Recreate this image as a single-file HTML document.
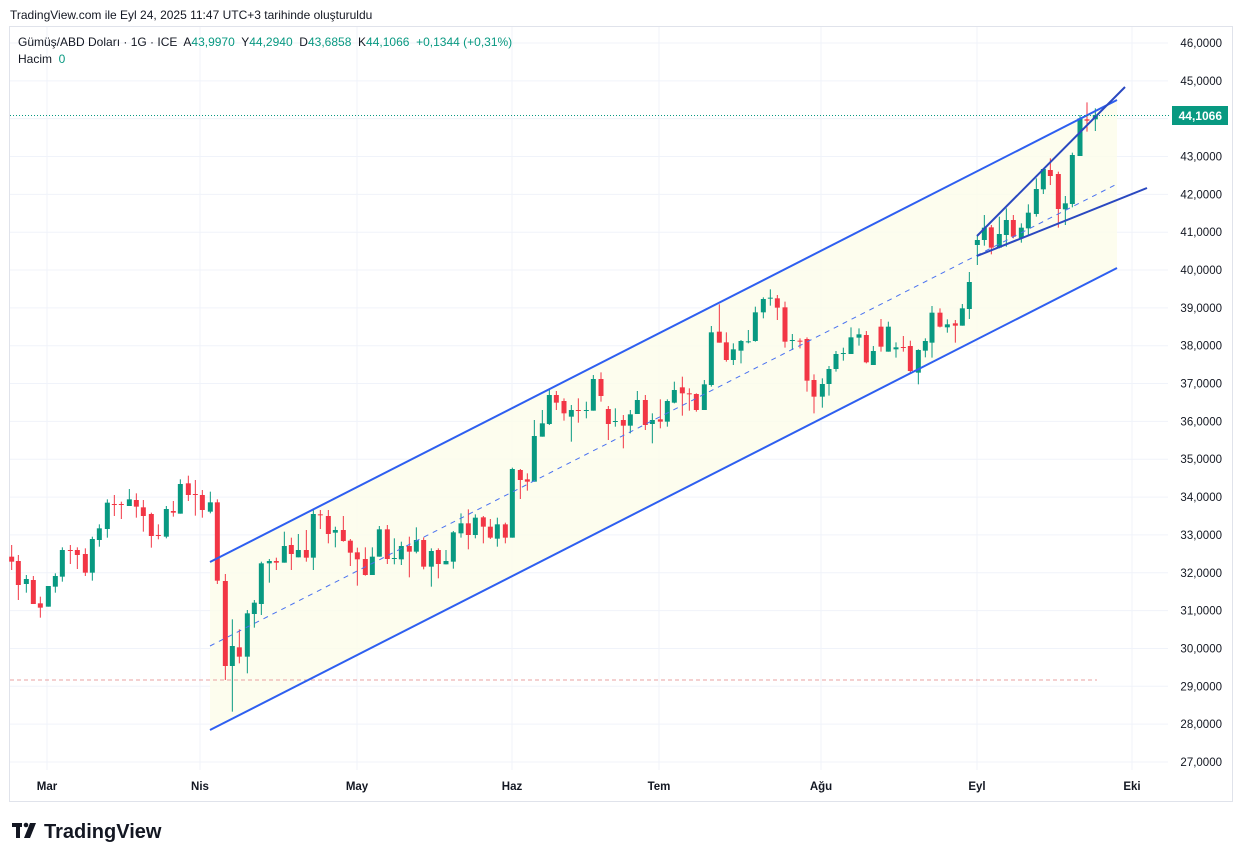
<!DOCTYPE html>
<html><head><meta charset="utf-8"><style>
html,body{margin:0;padding:0;background:#fff;width:1242px;height:861px;overflow:hidden;font-family:"Liberation Sans",sans-serif}
svg{position:absolute;left:0;top:0}
text{white-space:pre}
</style></head><body>
<svg id="s" width="1242" height="861" xmlns="http://www.w3.org/2000/svg">
<rect x="9.5" y="26.5" width="1223" height="775" fill="#fff" stroke="#e0e3eb"/>
<g id="grid" stroke="#f0f3fa" stroke-width="1"></g>
<polygon points="210,562 1117,100 1117,268 210,730" fill="#fdfdea" opacity="0.8"/>
<line x1="10" y1="680" x2="1097" y2="680" stroke="#e9a0a0" stroke-width="1" stroke-dasharray="4,3"/>
<g id="c"></g>
<line x1="210" y1="562" x2="1117" y2="100" stroke="#2e5ff0" stroke-width="2"/>
<line x1="210" y1="730" x2="1117" y2="268" stroke="#2e5ff0" stroke-width="2"/>
<line x1="210" y1="646" x2="1117" y2="184" stroke="#4a72f0" stroke-width="1" stroke-dasharray="5,5"/>
<line x1="977" y1="236" x2="1125" y2="87" stroke="#2a48c0" stroke-width="2"/>
<line x1="977" y1="256" x2="1147" y2="188" stroke="#2a48c0" stroke-width="2"/>
<line x1="10" y1="115.5" x2="1170" y2="115.5" stroke="#089981" stroke-width="1" stroke-dasharray="1,2"/>
<g id="yl" font-size="11.5" fill="#131722" text-anchor="end"></g>
<rect x="1172" y="106" width="56" height="19" fill="#089981"/>
<text x="1222" y="120" font-size="12" font-weight="bold" fill="#fff" text-anchor="end">44,1066</text>
<g font-size="11.5" font-weight="bold" fill="#131722" text-anchor="middle">
<text x="47" y="790">Mar</text><text x="200" y="790">Nis</text><text x="357" y="790">May</text><text x="512" y="790">Haz</text><text x="659" y="790">Tem</text><text x="821" y="790">Ağu</text><text x="977" y="790">Eyl</text><text x="1132" y="790">Eki</text>
</g>
<text x="10" y="19" font-size="12" fill="#131722">TradingView.com ile Eyl 24, 2025 11:47 UTC+3 tarihinde oluşturuldu</text>
<text x="18" y="46" font-size="12" fill="#131722" xml:space="preserve">Gümüş/ABD Doları · 1G · ICE  A<tspan fill="#089981">43,9970</tspan>  Y<tspan fill="#089981">44,2940</tspan>  D<tspan fill="#089981">43,6858</tspan>  K<tspan fill="#089981">44,1066</tspan>  <tspan fill="#089981">+0,1344 (+0,31%)</tspan></text>
<text x="18" y="63" font-size="12" fill="#131722" xml:space="preserve">Hacim  <tspan fill="#089981">0</tspan></text>
<g fill="#131722"><rect x="12" y="823" width="10" height="4"/><rect x="16" y="823" width="4" height="15"/><circle cx="26" cy="825" r="2.3"/><polygon points="30,823 36,823 30,838 24,838"/></g>
<text x="44" y="838" font-size="20" font-weight="bold" fill="#131722">TradingView</text>
</svg>
<script>
var ns="http://www.w3.org/2000/svg";
function el(p,t,a){var e=document.createElementNS(ns,t);for(var k in a)e.setAttribute(k,a[k]);p.appendChild(e);return e;}
var g=document.getElementById('grid'),yl=document.getElementById('yl');
for(var i=0;i<=19;i++){var y=43+i*37.84;el(g,'line',{x1:10,x2:1168,y1:y,y2:y});if(i!=2){var t=el(yl,'text',{x:1222,y:y+4});t.textContent=(46-i)+',0000';}}
[47,200,357,512,659,821,977,1132].forEach(function(x){el(g,'line',{x1:x,x2:x,y1:27,y2:770});});
var Z=[[0,460,[
[35,290,305,255,330,'r'],[55,303,375,285,420,'r'],[79,357,372,345,398,'g'],[100,360,432,348,432,'r'],[121,430,443,410,473,'r'],[145,378,440,378,440,'g'],[166,348,380,340,398,'g'],[187,270,350,262,365,'g'],[211,270,272,255,312,'r'],[232,270,285,262,327,'r'],[256,282,338,265,348,'r'],[277,237,338,230,362,'g'],[298,205,240,193,260,'g'],[322,128,207,118,233,'g'],[343,132,134,105,168,'r'],[364,132,134,125,177,'r'],[388,118,138,87,138,'g'],[409,120,140,100,173,'r'],[430,142,168,120,215,'r'],[454,162,228,158,263,'r'],[475,225,228,193,238,'r'],[499,147,230,138,235,'g'],[520,153,158,123,170,'r'],[541,72,161,58,161,'g'],[565,70,105,47,123,'r'],[586,102,104,60,167,'r'],[607,105,150,90,173,'r'],[631,127,155,95,160,'g'],[652,127,362,118,372,'r'],[676,363,618,342,660,'r'],[697,558,618,478,755,'g'],[718,562,590,508,610,'r'],[742,460,590,450,640,'g'],[763,428,462,420,503,'g'],[784,310,432,305,465,'g'],[808,303,310,297,368,'g'],[829,303,308,293,330,'r'],[853,258,308,215,308,'g'],[874,255,282,233,330,'r'],[895,270,292,222,292,'g'],[919,270,293,210,305,'r'],[940,162,293,150,330,'g'],[961,163,166,150,207,'r'],[985,168,222,150,250,'r'],[1006,210,218,200,262,'g'],[1030,210,243,168,245,'r'],[1051,242,278,237,318,'r'],[1072,277,298,263,377,'r'],[1096,297,345,262,347,'r'],[1117,290,345,262,345,'g'],[1138,208,290,198,290,'g'],[1162,208,297,195,312,'r'],[1183,294,296,235,313,'g']]],
[380,280,[
[64,798,838,785,855,'g'],[88,798,815,770,892,'r'],[109,780,815,742,820,'g'],[131,780,860,772,868,'r'],[154,813,860,805,920,'g'],[175,810,852,805,895,'r'],[198,843,853,810,853,'g'],[220,757,845,753,866,'g'],[243,730,760,700,773,'g'],[265,730,765,688,808,'r'],[286,713,765,703,775,'g'],[310,712,740,708,790,'r'],[331,740,773,717,777,'r'],[352,733,776,713,800,'g'],[376,733,773,728,790,'r'],[397,567,773,563,773,'g'],[421,570,600,567,657,'r'],[442,598,605,580,632,'r'],[463,468,605,420,605,'g'],[487,430,470,390,470,'g'],[508,345,432,328,435,'g'],[529,345,368,333,390,'r'],[552,363,400,355,422,'r'],[574,390,410,375,485,'g'],[595,390,392,355,428,'r'],[619,390,392,365,415,'g'],[640,297,392,285,392,'g'],[663,297,348,277,365,'r'],[685,387,432,378,480,'r'],[706,423,425,385,440,'g'],[730,420,437,405,505,'r'],[751,403,437,390,460,'g'],[772,360,402,333,402,'g'],[796,360,435,345,450,'r'],[817,420,432,400,490,'g'],[841,418,425,358,445,'r'],[862,363,425,358,440,'g'],[883,330,368,305,370,'g'],[907,322,340,290,407,'r'],[928,340,342,325,392,'r'],[949,342,390,340,395,'r'],[973,313,390,300,390,'g'],[994,157,315,138,320,'g'],[1018,155,188,73,188,'r'],[1039,187,240,157,245,'r'],[1060,208,240,190,255,'g'],[1083,183,212,180,250,'g'],[1105,184,186,150,190,'g'],[1126,97,183,80,185,'g'],[1150,57,97,52,115,'g'],[1171,53,55,28,77,'g'],[1192,55,83,45,120,'r'],[1215,82,185,65,203,'r'],[1237,180,182,162,210,'g']]],
[780,90,[
[60,752,754,745,775,'r'],[81,747,872,742,905,'r'],[102,870,920,853,970,'r'],[127,882,920,865,953,'g'],[147,837,882,828,917,'g'],[168,792,837,783,845,'g'],[190,789,791,773,812,'g'],[213,742,792,712,792,'g'],[237,733,743,715,767,'g'],[259,735,817,723,820,'r'],[280,783,825,768,825,'g'],[303,710,770,687,785,'r'],[325,710,785,695,785,'g'],[348,772,778,757,803,'g'],[370,771,773,738,785,'r'],[391,768,843,752,848,'r'],[415,780,848,778,883,'g'],[436,753,782,745,802,'g'],[456,668,758,648,803,'g'],[480,668,710,655,712,'r'],[502,703,712,688,728,'g'],[526,700,707,690,758,'r'],[547,655,707,642,707,'g'],[568,576,657,546,687,'g'],[592,450,465,437,525,'g'],[613,413,450,375,467,'g'],[634,412,473,405,493,'r'],[658,432,473,380,475,'g'],[679,390,435,355,470,'g'],[700,390,440,375,445,'r'],[724,413,445,400,458,'g'],[745,368,415,343,437,'g'],[769,297,372,265,380,'g'],[790,237,298,235,312,'g'],[811,240,258,205,285,'r'],[835,252,357,245,413,'r'],[856,340,358,318,405,'g'],[877,195,342,188,352,'g'],[900,85,198,75,198,'g'],[921,88,92,37,125,'r'],[946,75,88,55,123,'g']]]];
var c=document.getElementById('c');
Z.forEach(function(z){var ox=z[0],oy=z[1];z[2].forEach(function(d){
var x=ox+d[0]/3,t=oy+d[1]/3,b=oy+d[2]/3,h=oy+d[3]/3,l=oy+d[4]/3,col=d[5]=='g'?'#089981':'#f23645';
el(c,'line',{x1:x,x2:x,y1:h,y2:l,stroke:col,'stroke-width':1});
el(c,'rect',{x:x-2.5,y:t,width:5,height:Math.max(1,b-t),fill:col});});});
</script>
</body></html>
